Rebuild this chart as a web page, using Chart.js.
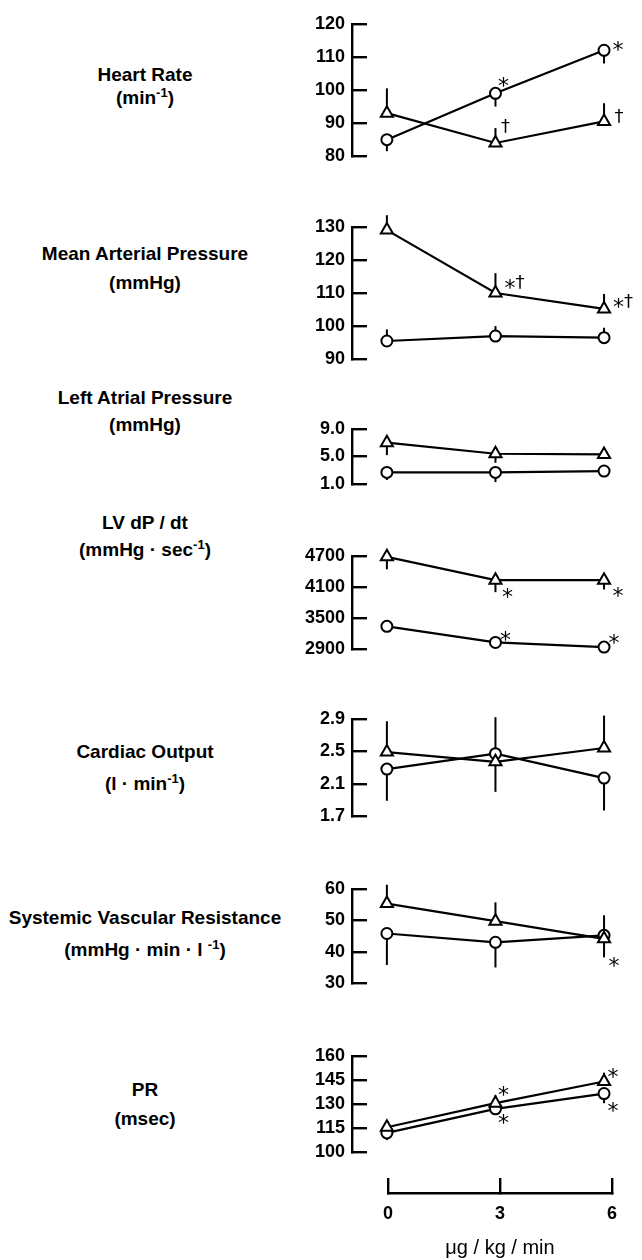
<!DOCTYPE html>
<html>
<head>
<meta charset="utf-8">
<title>Hemodynamic response</title>
<script src="https://cdn.jsdelivr.net/npm/chart.js@4.4.1/dist/chart.umd.min.js"></script>
<style>
  body { margin: 0; background: #fff; }
  #page { position: relative; width: 642px; height: 1260px; overflow: hidden; font-family: "Liberation Sans", Arial, sans-serif; color: #000; }
  canvas { position: absolute; left: 290px; }
  .lbl { position: absolute; left: 0; width: 290px; text-align: center; font-size: 19px; font-weight: bold; line-height: 20px; white-space: nowrap; }
  .lbl sup { font-size: 13px; line-height: 0; }
</style>
</head>
<body>
<div id="page"></div>
<script>
const doses = [0, 3, 6];

// Heart Rate (min-1)
const hrCircle = [85, 99, 112];
const hrCircleSE = [3.5, 4, 4];
const hrTriangle = [93, 84, 90.5];
const hrTriangleSE = [7.5, 4.5, 5.5];
const hrTicks = ['80', '90', '100', '110', '120'];
const hrCircleMarks = ['', '*', '*'];
const hrTriangleMarks = ['', '†', '†'];

// Mean Arterial Pressure (mmHg)
const mapCircle = [95.5, 97, 96.5];
const mapCircleSE = [3.5, 3, 3];
const mapTriangle = [129, 110, 105.2];
const mapTriangleSE = [4.5, 6, 4.5];
const mapTicks = ['90', '100', '110', '120', '130'];
const mapCircleMarks = ['', '', ''];
const mapTriangleMarks = ['', '*†', '*†'];

// Left Atrial Pressure (mmHg)
const lapCircle = [2.7, 2.7, 2.9];
const lapCircleSE = [1.1, 1.4, 0.8];
const lapTriangle = [7.0, 5.4, 5.3];
const lapTriangleSE = [1.8, 1.3, 0.6];
const lapTicks = ['1.0', '5.0', '9.0'];
const lapCircleMarks = ['', '', ''];
const lapTriangleMarks = ['', '', ''];

// LV dP/dt (mmHg.sec-1)
const lvCircle = [3340, 3030, 2940];
const lvCircleSE = [100, 110, 90];
const lvTriangle = [4680, 4230, 4230];
const lvTriangleSE = [240, 230, 180];
const lvTicks = ['2900', '3500', '4100', '4700'];
const lvCircleMarks = ['', '*', '*'];
const lvTriangleMarks = ['', '*', '*'];

// Cardiac Output (l.min-1)
const coCircle = [2.28, 2.47, 2.17];
const coCircleSE = [0.39, 0.47, 0.4];
const coTriangle = [2.49, 2.37, 2.54];
const coTriangleSE = [0.38, 0.55, 0.4];
const coTicks = ['1.7', '2.1', '2.5', '2.9'];
const coCircleMarks = ['', '', ''];
const coTriangleMarks = ['', '', ''];

// Systemic Vascular Resistance (mmHg.min.l-1)
const svrCircle = [45.8, 43, 45.2];
const svrCircleSE = [10, 8, 7];
const svrTriangle = [55.3, 49.7, 44.1];
const svrTriangleSE = [6, 6, 7.5];
const svrTicks = ['30', '40', '50', '60'];
const svrCircleMarks = ['', '', ''];
const svrTriangleMarks = ['', '', '*'];

// PR (msec)
const prCircle = [112, 127, 136.5];
const prCircleSE = [4.5, 3, 6];
const prTriangle = [115.5, 130.5, 144];
const prTriangleSE = [4, 5, 5.5];
const prTicks = ['100', '115', '130', '145', '160'];
const prCircleMarks = ['', '*', '*'];
const prTriangleMarks = ['', '*', '*'];

const xTicks = ['0', '3', '6'];
const xTitle = 'μg / kg / min';

const panels = [
  { title: 'Heart Rate', unit: '(min<sup>-1</sup>)', circle: hrCircle, circleSE: hrCircleSE, triangle: hrTriangle, triangleSE: hrTriangleSE, ticks: hrTicks, circleMarks: hrCircleMarks, triangleMarks: hrTriangleMarks },
  { title: 'Mean Arterial Pressure', unit: '(mmHg)', circle: mapCircle, circleSE: mapCircleSE, triangle: mapTriangle, triangleSE: mapTriangleSE, ticks: mapTicks, circleMarks: mapCircleMarks, triangleMarks: mapTriangleMarks },
  { title: 'Left Atrial Pressure', unit: '(mmHg)', circle: lapCircle, circleSE: lapCircleSE, triangle: lapTriangle, triangleSE: lapTriangleSE, ticks: lapTicks, circleMarks: lapCircleMarks, triangleMarks: lapTriangleMarks },
  { title: 'LV dP / dt', unit: '(mmHg · sec<sup>-1</sup>)', circle: lvCircle, circleSE: lvCircleSE, triangle: lvTriangle, triangleSE: lvTriangleSE, ticks: lvTicks, circleMarks: lvCircleMarks, triangleMarks: lvTriangleMarks },
  { title: 'Cardiac Output', unit: '(l · min<sup>-1</sup>)', circle: coCircle, circleSE: coCircleSE, triangle: coTriangle, triangleSE: coTriangleSE, ticks: coTicks, circleMarks: coCircleMarks, triangleMarks: coTriangleMarks },
  { title: 'Systemic Vascular Resistance', unit: '(mmHg · min · l <sup>-1</sup>)', circle: svrCircle, circleSE: svrCircleSE, triangle: svrTriangle, triangleSE: svrTriangleSE, ticks: svrTicks, circleMarks: svrCircleMarks, triangleMarks: svrTriangleMarks },
  { title: 'PR', unit: '(msec)', circle: prCircle, circleSE: prCircleSE, triangle: prTriangle, triangleSE: prTriangleSE, ticks: prTicks, circleMarks: prCircleMarks, triangleMarks: prTriangleMarks },
];

// where each panel sits on the page (pixel y of top / bottom tick), which way the SE bars point,
// and where the significance marks go relative to their point
const PAD = 24;
const panelLayout = [
  { top: 15, bottom: 165, label: [75, 98], circleDir: -1, triangleDir: 1,
    circleMarkAt: [null, [8, -12], [14, -5]], triangleMarkAt: [null, [10, -16], [15, -4]] },
  { top: 218, bottom: 368, label: [254, 283], circleDir: 1, triangleDir: 1,
    circleMarkAt: [], triangleMarkAt: [null, [19, -10], [19, -7]] },
  { top: 420, bottom: 493, label: [398, 425], circleDir: -1, triangleDir: -1,
    circleMarkAt: [], triangleMarkAt: [] },
  { top: 547, bottom: 658, label: [523, 550], circleDir: 1, triangleDir: -1,
    circleMarkAt: [null, [10, -7], [10, -9]], triangleMarkAt: [null, [12, 12], [14, 11]] },
  { top: 710, bottom: 825, label: [752, 784], circleDir: -1, triangleDir: 1,
    circleMarkAt: [], triangleMarkAt: [] },
  { top: 880, bottom: 992, label: [918, 950], circleDir: -1, triangleDir: 1,
    circleMarkAt: [], triangleMarkAt: [null, null, [10, 22]] },
  { top: 1047, bottom: 1161, label: [1090, 1119], circleDir: -1, triangleDir: 1,
    circleMarkAt: [null, [8, 9], [9, 13]], triangleMarkAt: [null, [8, -13], [9, -9]] },
];

Chart.defaults.font.family = '"Liberation Sans", Arial, sans-serif';
Chart.defaults.font.weight = 'bold';
Chart.defaults.color = '#000';

const page = document.getElementById('page');

// SE bars, drawn before the markers so the hollow symbols cover their start
const errorBars = {
  id: 'errorBars',
  beforeDatasetsDraw(chart) {
    const ctx = chart.ctx;
    const yScale = chart.scales.y;
    ctx.save();
    ctx.strokeStyle = '#000';
    ctx.lineWidth = 2;
    chart.data.datasets.forEach((ds, i) => {
      chart.getDatasetMeta(i).data.forEach((pt, j) => {
        const end = ds.data[j].y + ds.dir * ds.se[j];
        ctx.beginPath();
        ctx.moveTo(pt.x, pt.y);
        ctx.lineTo(pt.x, yScale.getPixelForValue(end));
        ctx.stroke();
      });
    });
    ctx.restore();
  }
};

// * and † significance marks
const marks = {
  id: 'marks',
  afterDatasetsDraw(chart) {
    const ctx = chart.ctx;
    ctx.save();
    ctx.fillStyle = '#000';
    ctx.textBaseline = 'middle';
    const fontFor = (ch) => ch === '*' ? '22px "DejaVu Sans"' : '18px "DejaVu Sans"';
    chart.data.datasets.forEach((ds, i) => {
      chart.getDatasetMeta(i).data.forEach((pt, j) => {
        const text = ds.marks[j];
        const at = ds.markAt[j];
        if (!text || !at) return;
        let total = 0;
        for (const ch of text) { ctx.font = fontFor(ch); total += ctx.measureText(ch).width; }
        let x = pt.x + at[0] - total / 2;
        for (const ch of text) {
          ctx.font = fontFor(ch);
          ctx.fillText(ch, x, pt.y + at[1] + (ch === '*' ? 6 : 0));
          x += ctx.measureText(ch).width;
        }
      });
    });
    ctx.restore();
  }
};

function series(values, se, dir, style, radius, mk, markAt) {
  return {
    data: doses.map((d, i) => ({ x: d, y: values[i] })),
    se: se,
    dir: dir,
    marks: mk,
    markAt: markAt,
    borderColor: '#000',
    borderWidth: 2.2,
    pointStyle: style,
    pointRadius: radius,
    pointBackgroundColor: '#fff',
    pointBorderColor: '#000',
    pointBorderWidth: 2,
    tension: 0,
    clip: false
  };
}

function addLabel(html, y) {
  const div = document.createElement('div');
  div.className = 'lbl';
  div.style.top = (y - 10) + 'px';
  div.innerHTML = html;
  page.appendChild(div);
}

panels.forEach((p, k) => {
  const lay = panelLayout[k];
  addLabel(p.title, lay.label[0]);
  addLabel(p.unit, lay.label[1]);

  const canvas = document.createElement('canvas');
  canvas.width = 352;
  canvas.height = lay.bottom - lay.top + 2 * PAD;
  canvas.style.top = (lay.top - PAD) + 'px';
  page.appendChild(canvas);

  const tickValues = p.ticks.map(Number);

  new Chart(canvas.getContext('2d'), {
    type: 'line',
    data: {
      datasets: [
        series(p.triangle, p.triangleSE, lay.triangleDir, 'triangle', 7, p.triangleMarks, lay.triangleMarkAt),
        series(p.circle, p.circleSE, lay.circleDir, 'circle', 5.5, p.circleMarks, lay.circleMarkAt)
      ]
    },
    options: {
      responsive: false,
      animation: false,
      devicePixelRatio: 1,
      events: [],
      layout: { padding: { top: PAD, bottom: PAD, left: 0, right: 0 } },
      plugins: { legend: { display: false }, tooltip: { enabled: false } },
      scales: {
        x: { type: 'linear', display: false, min: -0.964, max: 6.8 },
        y: {
          min: Math.min(...tickValues),
          max: Math.max(...tickValues),
          afterFit: (s) => { s.width = 62; },
          afterBuildTicks: (s) => { s.ticks = tickValues.map(v => ({ value: v })); },
          border: { display: true, color: '#000', width: 2.4 },
          grid: { drawOnChartArea: false, drawTicks: true, tickLength: -15, color: '#000', lineWidth: 2.4 },
          ticks: {
            autoSkip: false,
            padding: 22,
            font: { size: 18 },
            callback: (v) => p.ticks[tickValues.indexOf(v)]
          }
        }
      }
    },
    plugins: [errorBars, marks]
  });
});

// shared dose axis at the bottom
const axisCanvas = document.createElement('canvas');
axisCanvas.width = 352;
axisCanvas.height = 90;
axisCanvas.style.top = '1170px';
page.appendChild(axisCanvas);

const xValues = xTicks.map(Number);
new Chart(axisCanvas.getContext('2d'), {
  type: 'line',
  data: { datasets: [] },
  options: {
    responsive: false,
    animation: false,
    devicePixelRatio: 1,
    events: [],
    layout: { padding: { top: 0, bottom: 0, left: 98, right: 30 } },
    plugins: { legend: { display: false }, tooltip: { enabled: false } },
    scales: {
      y: { display: false, min: 0, max: 1 },
      x: {
        type: 'linear',
        position: 'bottom',
        min: 0,
        max: 6,
        afterFit: (s) => { s.height = 67; },
        afterBuildTicks: (s) => { s.ticks = xValues.map(v => ({ value: v })); },
        border: { display: true, color: '#000', width: 2.4 },
        grid: { drawOnChartArea: false, drawTicks: true, tickLength: -15, color: '#000', lineWidth: 2.4 },
        ticks: { autoSkip: false, maxRotation: 0, padding: 25, font: { size: 18 },
          callback: (v) => xTicks[xValues.indexOf(v)] },
        title: { display: true, text: xTitle, font: { size: 20, weight: 'normal' }, padding: { top: 0, bottom: 0 } }
      }
    }
  }
});
</script>
</body>
</html>
